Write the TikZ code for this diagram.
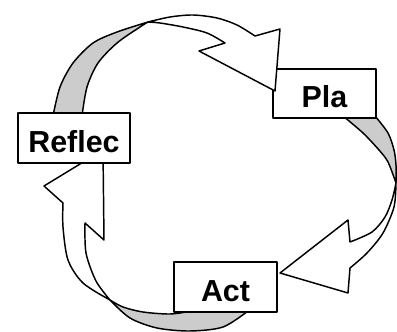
\documentclass[tikz,border=0pt]{standalone}
\usepackage{fontspec}
\setmainfont{Liberation Sans}
\begin{document}
\begin{tikzpicture}[x=.75pt,y=-.75pt,line width=1.1pt,line join=round,
  box/.style={draw,fill=white,inner sep=0pt,font=\fontsize{22.8}{27}\selectfont\bfseries,text height=21.75pt,text depth=0pt},
  back/.style={draw,fill=black!20},
  front/.style={draw,fill=white}]
\useasboundingbox (0,0) rectangle (397,332);
\draw[back] plot[smooth] coordinates{(343,116)(363,133)(379,150)(388,162)(396,183)} -- plot[smooth] coordinates{(396,183)(396,165)(394,150)(388,133)(375,116)} -- cycle;
\draw[front] plot[smooth] coordinates{(396,183)(394,207)(383,233)(367,253)(350,268)} -- (348,293) -- (280,273) -- (348,220) -- (350,242) -- plot[smooth] coordinates{(350,242)(372,232)(385,217)(392,200)(396,183)} -- cycle;
\draw[back] plot[smooth] coordinates{(110,300)(123,307)(143,312)(170,314)(192,311)} -- (200,305) -- (240,305) -- plot[smooth] coordinates{(248,311)(223,327)(190,331)(157,328)(130,318)(110,300)} -- cycle;
\draw[front] plot[smooth] coordinates{(110,300)(83,283)(68,260)(63,227)(63,203)} -- (44,186) -- (103,150) -- (104,240) -- (85,223) -- plot[smooth] coordinates{(85,223)(86,253)(96,281)(110,300)} -- cycle;
\draw[back] plot[smooth] coordinates{(53,116)(60,87)(73,63)(93,43)(117,32)(148,22)} -- plot[smooth] coordinates{(148,22)(140,27)(117,43)(98,63)(87,87)(82,116)} -- cycle;
\node[box,minimum width=84pt,minimum height=37.5pt] (reflec) at (74,138) {Reflec};
\node[box,minimum width=77.25pt,minimum height=37.5pt] (act) at (225.5,287) {Act};
\node[box,minimum width=77.25pt,minimum height=36.75pt] (pla) at (324.5,93.5) {Pla};
\draw[front] plot[smooth] coordinates{(148,22)(170,17)(193,15)(217,18)(237,25)(255,36)} -- (280,29) -- (275,91) -- (199,51) -- (225,43) -- plot[smooth] coordinates{(225,43)(207,33)(183,27)(160,23)(148,22)} -- cycle;
\end{tikzpicture}
\end{document}
